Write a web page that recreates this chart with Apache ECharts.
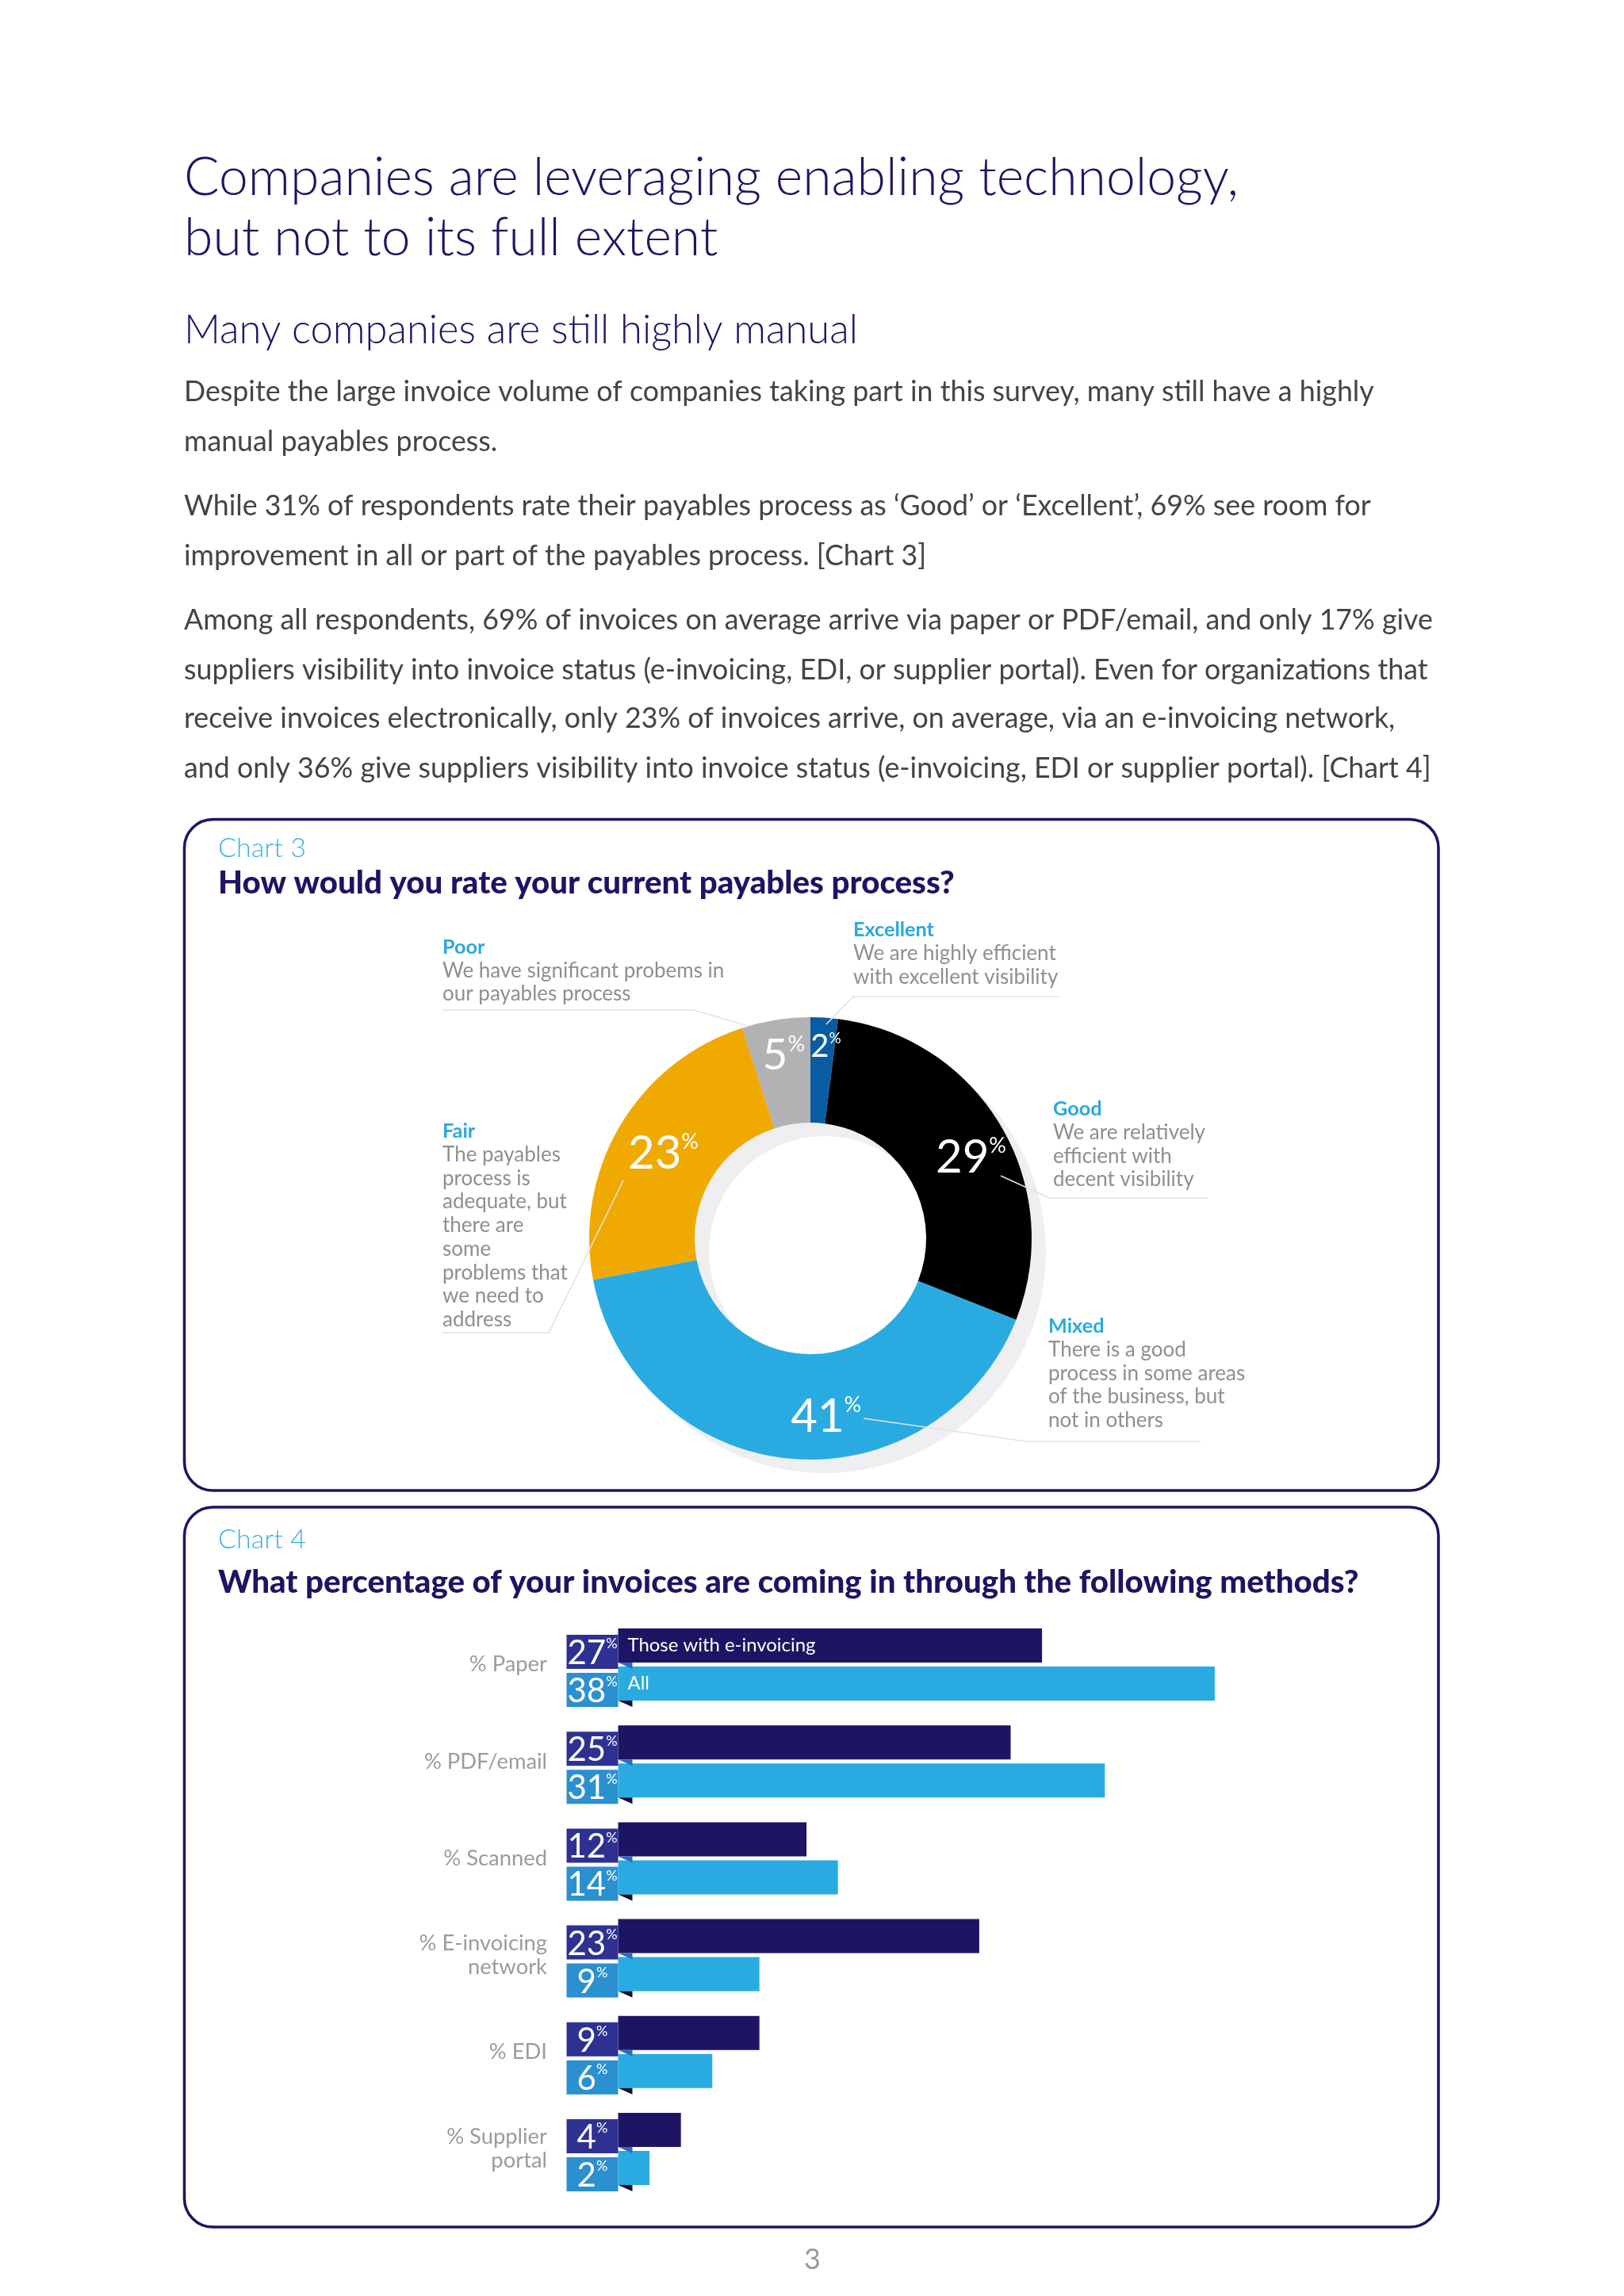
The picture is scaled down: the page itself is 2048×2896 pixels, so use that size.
<!DOCTYPE html>
<html>
<head>
<meta charset="utf-8">
<script src="https://cdn.jsdelivr.net/npm/echarts@6/dist/echarts.min.js"></script>
<style>html,body{margin:0;padding:0;background:#fff}#c{width:2048px;height:2896px}</style>
</head>
<body>
<div id="c"></div>
<script>
// ---------------- DATA ----------------
const titleLines = ['Companies are leveraging enabling technology,', 'but not to its full extent'];
const subtitle = 'Many companies are still highly manual';
const paragraphLines = [
  'Despite the large invoice volume of companies taking part in this survey, many still have a highly',
  'manual payables process.',
  'While 31% of respondents rate their payables process as \u2018Good\u2019 or \u2018Excellent\u2019, 69% see room for',
  'improvement in all or part of the payables process. [Chart 3]',
  'Among all respondents, 69% of invoices on average arrive via paper or PDF/email, and only 17% give',
  'suppliers visibility into invoice status (e-invoicing, EDI, or supplier portal). Even for organizations that',
  'receive invoices electronically, only 23% of invoices arrive, on average, via an e-invoicing network,',
  'and only 36% give suppliers visibility into invoice status (e-invoicing, EDI or supplier portal). [Chart 4]'
];
const chart3Label = 'Chart 3';
const chart3Question = 'How would you rate your current payables process?';
const chart4Label = 'Chart 4';
const chart4Question = 'What percentage of your invoices are coming in through the following methods?';

const ratingNames = ['Excellent', 'Good', 'Mixed', 'Fair', 'Poor'];
const ratingValues = [2, 29, 41, 23, 5];
const ratingDescriptions = [
  ['We are highly efficient', 'with excellent visibility'],
  ['We are relatively', 'efficient with', 'decent visibility'],
  ['There is a good', 'process in some areas', 'of the business, but', 'not in others'],
  ['The payables', 'process is', 'adequate, but', 'there are', 'some', 'problems that', 'we need to', 'address'],
  ['We have significant probems in', 'our payables process']
];

const methodCategories = ['% Paper', '% PDF/email', '% Scanned', '% E-invoicing\nnetwork', '% EDI', '% Supplier\nportal'];
const seriesNames = ['Those with e-invoicing', 'All'];
const withEinvoicing = [27, 25, 12, 23, 9, 4];
const allRespondents = [38, 31, 14, 9, 6, 2];
const pageNumber = '3';

// ---------------- STYLE / LAYOUT ----------------
const FONT = 'Lato, "Open Sans", sans-serif';
const NAVY = '#1e1464';
const SKY = '#29abe2';
const ratingColors = ['#0a5ca2', '#000000', '#29abe2', '#f0a900', '#b2b2b4'];
const labelNudge = [[6, -27], [17, 8], [40, 11], [0, 3], [0, -18]];
const calloutPos = [[1076, 1173], [1328, 1399], [1322, 1673], [558, 1427], [558, 1194.6]];
const CALLOUT_STEP = 29.7;

const mctx = document.createElement('canvas').getContext('2d');
function fit(text, width, weight) {
  mctx.font = (weight || 'normal') + ' 100px ' + FONT;
  const w = mctx.measureText(text).width;
  return w > 0 ? +(100 * width / w).toFixed(2) : 30;
}
const TITLE_W = '300';
const HEAD_W = '900';
const titleSize = 0.7 * fit(titleLines[0], 1365, TITLE_W) + 0.3 * fit(titleLines[1], 632, TITLE_W);
const subSize = fit(subtitle, 850, TITLE_W);
const bodySize = (fit(paragraphLines[0], 1498) + fit(paragraphLines[4], 1579)) / 2;
const chartLabelSize = fit(chart3Label, 111, TITLE_W);
const questionSize = (fit(chart3Question, 931, HEAD_W) + fit(chart4Question, 1436, HEAD_W)) / 2;
const calloutSize = (fit(ratingDescriptions[4][0], 354) + fit(ratingDescriptions[0][0], 247.5) + fit(ratingDescriptions[2][1], 257.5)) / 3;
const calloutHeadSize = fit('Excellent', 102, 'bold');
const catSize = fit('% E-invoicing', 161.4);
const inBarSize = fit(seriesNames[0], 237);

const BAR_W = 43, BAR_GAP = 5;

// ---------------- GRAPHIC (text & frames) ----------------
const g = [];
function txt(text, x, y, size, color, weight, align, z) {
  g.push({type: 'text', x: x, y: y, z: z || 10, silent: true,
    style: {text: text, fontSize: size, fontFamily: FONT, fontWeight: weight || 'normal',
      fill: color, align: align || 'left', verticalAlign: 'middle'}});
}
// frames
g.push({type: 'rect', z: 0, silent: true, shape: {x: 232.5, y: 1033.5, width: 1581.5, height: 846.5, r: 36},
  style: {fill: 'none', stroke: NAVY, lineWidth: 3.5}});
g.push({type: 'rect', z: 0, silent: true, shape: {x: 232.5, y: 1901, width: 1581.5, height: 908, r: 36},
  style: {fill: 'none', stroke: NAVY, lineWidth: 3.5}});
// donut drop shadow
g.push({type: 'ring', z: 0, silent: true, shape: {cx: 1040, cy: 1579, r: 279, r0: 146}, style: {fill: '#efeff2'}});

txt(titleLines[0], 232, 224.5, titleSize, NAVY, TITLE_W);
txt(titleLines[1], 232, 301, titleSize, NAVY, TITLE_W);
txt(subtitle, 232, 416.5, subSize, NAVY, TITLE_W);
const paraY = [494.5, 557.3, 638.6, 701.3, 782.6, 845.3, 906.3, 969.1];
paragraphLines.forEach((l, i) => txt(l, 232, paraY[i], bodySize, '#444444'));
txt(chart3Label, 275, 1069.7, chartLabelSize, '#3cb0e4', TITLE_W);
txt(chart3Question, 275, 1113.8, questionSize, NAVY, HEAD_W);
txt(chart4Label, 275, 1941.7, chartLabelSize, '#3cb0e4', TITLE_W);
txt(chart4Question, 275, 1995.8, questionSize, NAVY, HEAD_W);
txt(pageNumber, 1024.5, 2850, 36, '#9a9a9a', 'normal', 'center');

// callouts
ratingNames.forEach((n, i) => {
  const p = calloutPos[i];
  txt(n, p[0], p[1], calloutHeadSize, '#29a8e0', 'bold');
  ratingDescriptions[i].forEach((l, j) => txt(l, p[0], p[1] + CALLOUT_STEP * (j + 1), calloutSize, '#8f8f8f'));
});
// leader lines
const leaders = [
  [[1336, 1257], [1076, 1257], [1042, 1292]],
  [[1523, 1511], [1323, 1511], [1262, 1483]],
  [[1514, 1818], [1293, 1818], [1089, 1789]],
  [[558, 1681], [692, 1681], [786, 1489]],
  [[558, 1274], [875, 1274], [943, 1294]]
];
leaders.forEach(pts => g.push({type: 'polyline', z: 10, silent: true, shape: {points: pts},
  style: {stroke: '#e3e3e6', lineWidth: 1.6, fill: null}}));

// ---------------- SERIES ----------------
function boxSeries(values, idx, boxColor, foldColor) {
  return {
    type: 'custom', z: 5, silent: true, clip: false,
    data: values.map((v, i) => [v, i]),
    encode: {x: 0, y: 1},
    renderItem: function (params, api) {
      const v = api.value(0), ci = api.value(1);
      const p = api.coord([0, ci]);
      const x0 = p[0];
      const top = idx === 0 ? p[1] - BAR_W - BAR_GAP / 2 : p[1] + BAR_GAP / 2;
      const bottom = top + BAR_W;
      return {type: 'group', children: [
        {type: 'rect', shape: {x: x0 - 65, y: top + 8, width: 65, height: BAR_W}, style: {fill: boxColor}},
        {type: 'polygon', shape: {points: [[x0, bottom], [x0 + 18, bottom], [x0 + 18, bottom + 8]]}, style: {fill: foldColor}},
        {type: 'text', x: x0 - 32.5, y: top + 8 + BAR_W / 2 + 2, style: {
          text: '{n|' + v + '}{p|%}', align: 'center', verticalAlign: 'middle', fill: '#fff',
          rich: {n: {fontSize: 42, fontFamily: FONT, fill: '#fff'},
                 p: {fontSize: 18, fontFamily: FONT, fill: '#fff', verticalAlign: 'top'}}}}
      ]};
    }
  };
}

const option = {
  animation: false,
  backgroundColor: '#ffffff',
  graphic: {elements: g},
  grid: {left: 779.5, top: 2038.4, width: 792, height: 733.2, containLabel: false},
  xAxis: {type: 'value', min: 0, max: 40, show: false},
  yAxis: {type: 'category', inverse: true, data: methodCategories,
    axisLine: {show: false}, axisTick: {show: false}, splitLine: {show: false},
    axisLabel: {margin: 89.5, fontSize: catSize, lineHeight: 30, color: '#9b9b9b', fontFamily: FONT, align: 'right'}},
  series: [
    {type: 'pie', center: [1022, 1562], radius: [146, 279], startAngle: 90, clockwise: true,
      avoidLabelOverlap: false, silent: true, emphasis: {disabled: true}, z: 2,
      data: ratingNames.map((n, i) => ({name: n, value: ratingValues[i], itemStyle: {color: ratingColors[i]}})),
      label: {show: true, position: 'inside',
        formatter: p => p.dataIndex === 0 ? '{sn|' + p.value + '}{sp|%}' : (p.dataIndex === 4 ? '{mn|' + p.value + '}{mp|%}' : '{n|' + p.value + '}{p|%}'),
        rich: {
          n: {fontSize: 58, color: '#fff', fontFamily: FONT},
          p: {fontSize: 27, color: '#fff', fontFamily: FONT, verticalAlign: 'top'},
          mn: {fontSize: 55, color: '#fff', fontFamily: FONT},
          mp: {fontSize: 27, color: '#fff', fontFamily: FONT, verticalAlign: 'top'},
          sn: {fontSize: 40, color: '#fff', fontFamily: FONT},
          sp: {fontSize: 19, color: '#fff', fontFamily: FONT, verticalAlign: 'top'}
        }},
      labelLine: {show: false},
      labelLayout: p => ({dx: labelNudge[p.dataIndex][0], dy: labelNudge[p.dataIndex][1]})
    },
    {type: 'bar', name: seriesNames[0], silent: true, z: 2,
      data: withEinvoicing.map((v, i) => i === 0 ? {value: v, label: {show: true}} : v),
      barWidth: BAR_W, barGap: (BAR_GAP / BAR_W * 100).toFixed(1) + '%',
      itemStyle: {color: NAVY},
      label: {show: false, position: 'insideLeft', distance: 12, formatter: '{a}', color: '#fff', fontSize: inBarSize, fontFamily: FONT}},
    {type: 'bar', name: seriesNames[1], silent: true, z: 2,
      data: allRespondents.map((v, i) => i === 0 ? {value: v, label: {show: true}} : v),
      barWidth: BAR_W, barGap: (BAR_GAP / BAR_W * 100).toFixed(1) + '%',
      itemStyle: {color: SKY},
      label: {show: false, position: 'insideLeft', distance: 12, formatter: '{a}', color: '#fff', fontSize: inBarSize, fontFamily: FONT}},
    boxSeries(withEinvoicing, 0, '#2e3192', '#2a6cb9'),
    boxSeries(allRespondents, 1, '#2b90d0', '#0d1236')
  ]
};
const chart = echarts.init(document.getElementById('c'), null, {renderer: 'canvas'});
chart.setOption(option);
</script>
</body>
</html>
